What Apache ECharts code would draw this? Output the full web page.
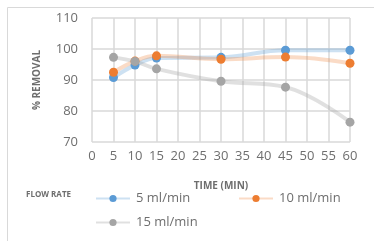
<!DOCTYPE html>
<html>
<head>
<meta charset="utf-8">
<script src="https://cdn.jsdelivr.net/npm/echarts@6/dist/echarts.min.js"></script>
<style>
  html, body { margin: 0; padding: 0; background: #fff; }
  #chart { width: 374px; height: 241px; }
</style>
</head>
<body>
<div id="chart"></div>
<script>
// minutes
var times = [5, 10, 15, 30, 45, 60];
var flow5 = [90.8, 94.8, 97.1, 97.3, 99.6, 99.6];
var flow10 = [92.5, 96.1, 97.8, 96.7, 97.4, 95.4];
var flow15 = [97.3, 96.0, 93.6, 89.6, 87.7, 76.4];
var seriesNames = ["5 ml/min", "10 ml/min", "15 ml/min"];
var yTicks = [70, 80, 90, 100, 110];

function pairs(vals) {
  return times.map(function (t, i) { return [t, vals[i]]; });
}

var myChart = echarts.init(document.getElementById("chart"));
var font = "'Open Sans', sans-serif";
var textCol = "#6e6e6e";

function mkSeries(name, vals, col, pale) {
  return {
    name: name,
    type: "line",
    smooth: 0.4,
    symbol: "circle",
    symbolSize: 9,
    itemStyle: { color: col },
    lineStyle: { color: pale, width: 4 },
    data: pairs(vals)
  };
}

function mkLegend(name, left, top) {
  return {
    data: [name],
    left: left,
    top: top,
    itemWidth: 34,
    itemHeight: 9,
    itemGap: 0,
    textStyle: { fontFamily: font, fontSize: 13, color: textCol, padding: [0, 0, 0, 1] }
  };
}

var option = {
  animation: false,
  legend: [
    mkLegend(seriesNames[0], 90, 187),
    mkLegend(seriesNames[1], 233, 187),
    mkLegend(seriesNames[2], 90, 211)
  ],
  graphic: [
    {
      type: "rect",
      shape: { x: 7.5, y: 7.5, width: 400, height: 300 },
      style: { fill: "none", stroke: "#d9d9d9", lineWidth: 1 },
      silent: true
    },
    {
      type: "text",
      left: 26,
      top: 191,
      style: { text: "FLOW RATE", font: "bold 8px " + font, fill: textCol }
    }
  ],
  grid: { left: 92, right: 24, top: 18, bottom: 99 },
  xAxis: {
    type: "value",
    min: 0,
    max: 60,
    interval: 5,
    name: "TIME (MIN)",
    nameLocation: "middle",
    nameGap: 39,
    nameTextStyle: { fontFamily: font, fontSize: 10, fontWeight: "bold", color: textCol },
    axisLine: { show: false },
    axisTick: { show: false },
    axisLabel: { fontFamily: font, fontSize: 13, color: textCol, margin: 8 },
    splitLine: { show: true, lineStyle: { color: "#d9d9d9", width: 1.5 } }
  },
  yAxis: {
    type: "value",
    min: yTicks[0],
    max: yTicks[yTicks.length - 1],
    interval: 10,
    name: "% REMOVAL",
    nameLocation: "middle",
    nameGap: 50,
    nameRotate: 90,
    nameTextStyle: { fontFamily: font, fontSize: 10, fontWeight: "bold", color: textCol },
    axisLine: { show: false },
    axisTick: { show: false },
    axisLabel: { fontFamily: font, fontSize: 13, color: textCol, margin: 14 },
    splitLine: { show: true, lineStyle: { color: "#d9d9d9", width: 1.5 } }
  },
  series: [
    mkSeries(seriesNames[0], flow5, "#5b9bd5", "rgba(91,155,213,0.3)"),
    mkSeries(seriesNames[1], flow10, "#ed7d31", "rgba(237,125,49,0.28)"),
    mkSeries(seriesNames[2], flow15, "#a5a5a5", "rgba(165,165,165,0.35)")
  ]
};
myChart.setOption(option);
</script>
</body>
</html>
